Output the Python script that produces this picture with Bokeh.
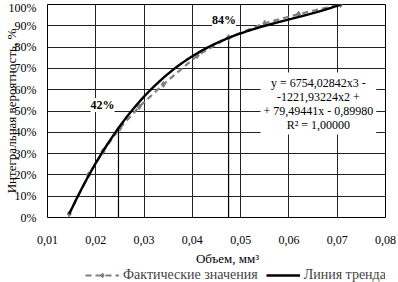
import numpy as np
from bokeh.plotting import figure
from bokeh.layouts import column
from bokeh.models import (Range1d, FixedTicker, Label, Legend, LegendItem, ColumnDataSource)
from bokeh.embed import file_html
from bokeh.resources import INLINE

# ---- data ----
fact_x = [0.0145, 0.0185, 0.0215, 0.0250, 0.0290, 0.0340, 0.0410, 0.0475, 0.0550, 0.0620, 0.0707]
fact_y = [0.017, 0.20, 0.31, 0.42, 0.52, 0.625, 0.76, 0.845, 0.912, 0.955, 1.0]
trend_coef = [6754.02842, -1221.93224, 79.49441, -0.89980]   # cubic trend shown on chart
trend_range = [0.0145, 0.0707]
mark_x = [0.0247, 0.0475]
mark_y = [0.42, 0.84]
mark_labels = ["42%", "84%"]
x_ticks = [0.01, 0.02, 0.03, 0.04, 0.05, 0.06, 0.07, 0.08]
x_tick_labels = ["0,01", "0,02", "0,03", "0,04", "0,05", "0,06", "0,07", "0,08"]
y_ticks = [0.0, 0.1, 0.2, 0.3, 0.4, 0.5, 0.6, 0.7, 0.8, 0.9, 1.0]
y_tick_labels = ["0%", "10%", "20%", "30%", "40%", "50%", "60%", "70%", "80%", "90%", "100%"]
equation = "y = 6754,02842x3 -\n-1221,93224x2 +\n+ 79,49441x - 0,89980\nR\u00b2 = 1,00000"
x_title = "Объем, мм\u00b3"
y_title = "Интегральная вероятность, %"
legend_labels = ["Фактические значения", "Линия тренда"]

FONT = "Liberation Serif"
FACT_COLOR = "#7f7f7f"

p = figure(width=398, height=250, output_backend="svg", toolbar_location=None,
           x_range=Range1d(0.01, 0.08), y_range=Range1d(0, 1),
           min_border_left=47, min_border_right=13, min_border_top=4, min_border_bottom=33)
p.outline_line_color = "black"
p.outline_line_width = 1

# axes
p.xaxis.ticker = FixedTicker(ticks=x_ticks)
p.xaxis.major_label_overrides = {t: l for t, l in zip(x_ticks, x_tick_labels)}
p.yaxis.ticker = FixedTicker(ticks=y_ticks)
p.yaxis.major_label_overrides = {t: l for t, l in zip(y_ticks, y_tick_labels)}
for ax in (p.xaxis, p.yaxis):
    ax.axis_line_color = None
    ax.major_tick_line_color = None
    ax.minor_tick_line_color = None
    ax.major_tick_out = 0
    ax.major_tick_in = 0
    ax.major_label_text_font = FONT
    ax.major_label_text_font_size = "12px"
    ax.major_label_text_color = "black"
p.xaxis.major_label_standoff = 18
p.yaxis.major_label_standoff = 11

p.yaxis.axis_label = y_title
p.yaxis.axis_label_text_font = FONT
p.yaxis.axis_label_text_font_size = "13px"
p.yaxis.axis_label_text_font_style = "normal"
p.yaxis.axis_label_text_color = "black"
p.yaxis.axis_label_standoff = -13

p.xgrid.ticker = FixedTicker(ticks=x_ticks)
p.ygrid.ticker = FixedTicker(ticks=y_ticks)
for g in (p.xgrid, p.ygrid):
    g.grid_line_color = "#222222"
    g.grid_line_width = 1

# marker lines for 42% and 84%
for mx, my in zip(mark_x, mark_y):
    p.segment(x0=[mx], y0=[0], x1=[mx], y1=[my], line_color="black", line_width=1.2)

# actual values
src = ColumnDataSource(dict(x=fact_x, y=fact_y))
p.line("x", "y", source=src, line_color=FACT_COLOR, line_width=2.2, line_dash="6 4")
p.scatter("x", "y", source=src, marker="diamond", size=6,
          fill_color=FACT_COLOR, line_color=FACT_COLOR)

# trend line from the shown cubic coefficients
tx = np.linspace(trend_range[0], trend_range[1], 200)
ty = np.polyval(trend_coef, tx)
p.line(tx, ty, line_color="black", line_width=2.4)

# percentage labels
p.add_layout(Label(x=0.02139, y=0.528, text=mark_labels[0], text_align="center",
                   text_baseline="middle", text_font=FONT, text_font_size="12px",
                   text_font_style="bold", background_fill_color="white",
                   text_color="black"))
p.add_layout(Label(x=0.04654, y=0.927, text=mark_labels[1], text_align="center",
                   text_baseline="middle", text_font=FONT, text_font_size="12px",
                   text_font_style="bold", background_fill_color="white",
                   text_color="black"))

# equation
p.add_layout(Label(x=0.0661, y=0.535, text=equation, text_align="center",
                   text_baseline="middle", text_font=FONT, text_font_size="12px",
                   text_line_height=1.0, background_fill_color="white",
                   padding=3, text_color="black"))

# ---- lower strip: x-axis title and legend (frame aligned with the chart's frame) ----
q = figure(width=398, height=32, output_backend="svg", toolbar_location=None,
           x_range=Range1d(47, 385), y_range=Range1d(0, 32),
           min_border_left=47, min_border_right=13, min_border_top=0, min_border_bottom=0)
q.axis.visible = False
q.grid.visible = False
q.outline_line_color = None
q.add_layout(Label(x=227, y=24, text=x_title, text_align="center", text_baseline="middle",
                   text_font=FONT, text_font_size="13px", text_color="black"))
r1 = q.line([-100, -90], [-100, -90], line_color=FACT_COLOR, line_width=2.2, line_dash="6 4")
r2 = q.scatter([-100], [-100], marker="diamond", size=7, fill_color=FACT_COLOR, line_color=FACT_COLOR)
r3 = q.line([-100, -90], [-100, -90], line_color="black", line_width=2.4)
legend = Legend(items=[LegendItem(label=legend_labels[0], renderers=[r1, r2]),
                       LegendItem(label=legend_labels[1], renderers=[r3])],
                location=(38, -1), orientation="horizontal",
                label_text_font=FONT, label_text_font_size="14px",
                glyph_width=34, glyph_height=12, label_height=12, label_standoff=4,
                spacing=8, padding=0, margin=0, border_line_color=None,
                background_fill_alpha=0)
q.add_layout(legend, "center")

layout = column(p, q, spacing=0)
open("out.html", "w").write(file_html(layout, INLINE))
